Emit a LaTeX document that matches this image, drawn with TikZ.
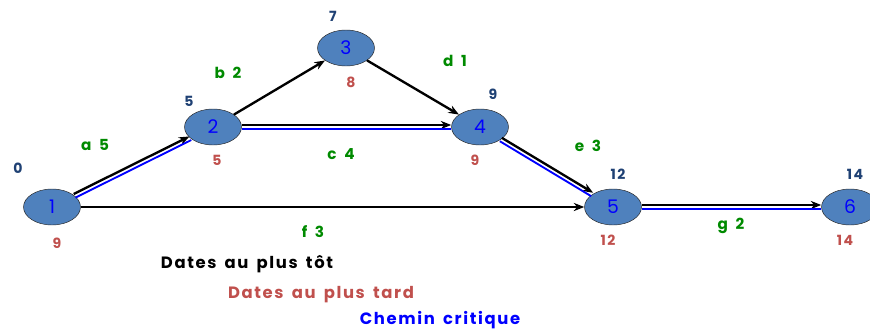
\documentclass[tikz,border=0pt]{standalone}
\usepackage{fontspec}
\setmainfont{Poppins}
\newfontfamily\futu[LetterSpace=10,WordSpace=1.6]{Poppins}
\usetikzlibrary{shapes.geometric,arrows.meta}

\definecolor{evtfill}{HTML}{4F81BD}
\definecolor{tot}{HTML}{1F4174}
\definecolor{tard}{HTML}{C0504D}
\definecolor{tache}{HTML}{008A00}

\tikzset{
  evt/.style={ellipse,draw=black!85,thin,fill=evtfill,minimum width=1.71cm,
    minimum height=1.08cm,inner sep=0pt,text=blue,font=\fontsize{16}{16}\selectfont},
  dtot/.style={text=tot,font=\futu\bfseries\fontsize{12}{12}\selectfont},
  dtard/.style={text=tard,font=\futu\bfseries\fontsize{12}{12}\selectfont},
  lbl/.style={text=tache,font=\futu\bfseries\fontsize{13}{13}\selectfont},
  legende/.style={font=\futu\bfseries\fontsize{14}{14}\selectfont},
  fleche/.style={line width=2pt,-{Stealth[length=9pt,width=7pt]}},
  crit/.style={line width=1.6pt,blue},
}

\begin{document}
\begin{tikzpicture}[x=0.03cm,y=-0.03cm]
\useasboundingbox (0,0) rectangle (870,329);

% evenements
\node[evt] (n1) at (52,207) {1};
\node[evt] (n2) at (213,127) {2};
\node[evt] (n3) at (346,48) {3};
\node[evt] (n4) at (480,127) {4};
\node[evt] (n5) at (613,207) {5};
\node[evt] (n6) at (850,207) {6};

% dates au plus tot / au plus tard
\node[dtot] (t1) at (18,168) {0};
\node[dtard] (r1) at (57,243) {9};
\node[dtot] (t2) at (189,101) {5};
\node[dtard] (r2) at (217,160) {5};
\node[dtot] (t3) at (333,16) {7};
\node[dtard] (r3) at (351,82) {8};
\node[dtot] (t4) at (493,94) {9};
\node[dtard] (r4) at (475,160) {9};
\node[dtot] (t5) at (618,174) {12};
\node[dtard] (r5) at (608,240) {12};
\node[dtot] (t6) at (855,174) {14};
\node[dtard] (r6) at (845,240) {14};

% taches
\draw[fleche] (n2) -- (n3);
\draw[fleche] (n3) -- (n4);
\draw[fleche] (n1) -- (n5);

\draw[fleche,transform canvas={shift={(-0.9,-1.8)}}] (n1) -- (n2);
\draw[crit,transform canvas={shift={(0.9,1.8)}}] (n1) -- (n2);
\draw[fleche,transform canvas={shift={(0,-2)}}] (n2) -- (n4);
\draw[crit,transform canvas={shift={(0,2)}}] (n2) -- (n4);
\draw[fleche,transform canvas={shift={(1,-1.7)}}] (n4) -- (n5);
\draw[crit,transform canvas={shift={(-1,1.7)}}] (n4) -- (n5);
\draw[fleche,transform canvas={shift={(0,-2)}}] (n5) -- (n6);
\draw[crit,transform canvas={shift={(0,2)}}] (n5) -- (n6);

\node[lbl] (la) at (95,145) {a 5};
\node[lbl] (lb) at (228,73) {b 2};
\node[lbl] (ld) at (455,61) {d 1};
\node[lbl] (lc) at (341,154) {c 4};
\node[lbl] (le) at (588,146) {e 3};
\node[lbl] (lf) at (313,232) {f 3};
\node[lbl] (lg) at (731,226) {g 2};

% legende
\node[legende] (leg1) at (247,264) {Dates au plus tôt};
\node[legende,text=tard] (leg2) at (321,295) {Dates au plus tard};
\node[legende,text=blue] (leg3) at (440,320) {Chemin critique};

\end{tikzpicture}
\end{document}
